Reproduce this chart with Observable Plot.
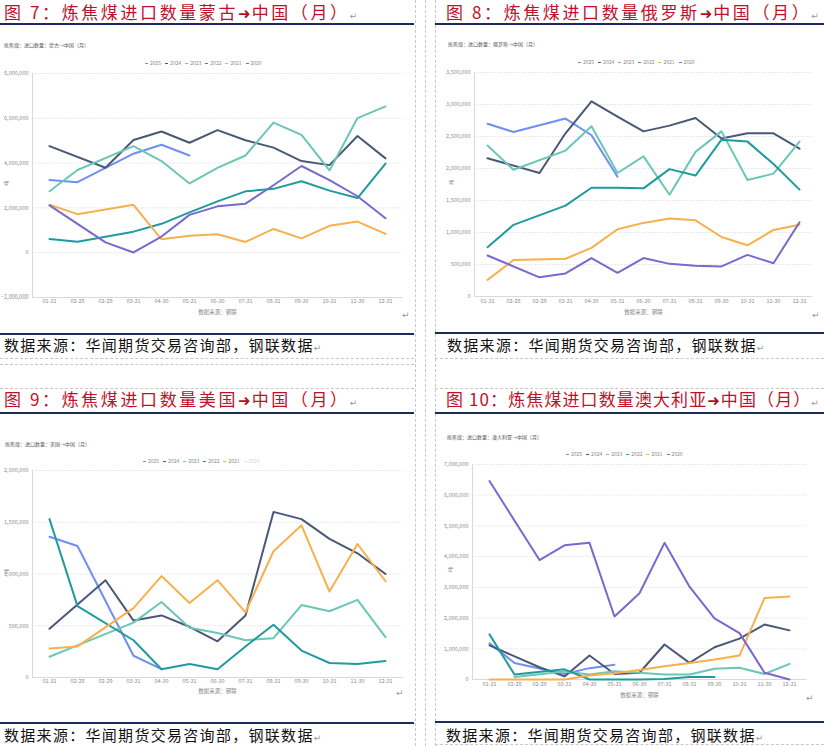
<!DOCTYPE html>
<html><head><meta charset="utf-8">
<script src="https://cdn.jsdelivr.net/npm/d3@7"></script>
<script src="https://cdn.jsdelivr.net/npm/@observablehq/plot@0.6"></script>
<style>
body{margin:0;background:#fff;}
#page{position:relative;width:824px;height:746px;overflow:hidden;font-family:"Noto Sans CJK SC","Noto Sans",sans-serif;background:#fff;}
.abs{position:absolute;}
.title{font-size:17px;line-height:20px;color:#c0102a;letter-spacing:2.6px;white-space:nowrap;}
.title .arr{font-family:"DejaVu Sans";font-size:15px;letter-spacing:1px;color:#b01020;}
.ret{color:#999;font-size:9px;letter-spacing:0;font-family:"DejaVu Sans";}
.src{font-size:15px;line-height:18px;color:#111;letter-spacing:1.3px;white-space:nowrap;}
.navy{height:2px;background:#1c2b5e;}
.sub{font-size:5px;line-height:6px;color:#555;white-space:nowrap;}
.leg{font-size:5px;line-height:6px;color:#888;white-space:nowrap;}
.leg span.it{margin-right:4px;}
.leg span.d{display:inline-block;width:3px;height:1px;vertical-align:middle;margin-right:2px;}
.hd{border-top:1px dashed #c8c8c8;height:0;}
.vd{border-left:1px dashed #c8c8c8;width:0;}
</style>
</head><body>
<div id="page"></div>
<script>
const cats = ["01-31","02-28","02-29","03-31","04-30","05-31","06-30","07-31","08-31","09-30","10-31","11-30","12-31"];
const years = ["2025","2024","2023","2022","2021","2020"];
const colors = ["#6f8ff2","#4a5878","#6cc6b5","#1f9ba0","#f8b04c","#7a68cf"];
const yTicks7 = [-2000000,0,2000000,4000000,6000000,8000000];
const yTicks8 = [0,500000,1000000,1500000,2000000,2500000,3000000,3500000];
const yTicks9 = [0,500000,1000000,1500000,2000000];
const yTicks10 = [0,1000000,2000000,3000000,4000000,5000000,6000000,7000000];

// 蒙古
const mn2025 = [3250000,3150000,null,4420000,4820000,4340000,null,null,null,null,null,null,null];
const mn2024 = [4760000,null,3790000,5030000,5410000,4910000,5470000,5020000,4690000,4090000,3910000,5210000,4210000];
const mn2023 = [2740000,3690000,null,4760000,4090000,3090000,3790000,4340000,5810000,5260000,3670000,6010000,6530000];
const mn2022 = [610000,490000,null,940000,1290000,1800000,2290000,2740000,2850000,3190000,2770000,2440000,3980000];
const mn2021 = [2140000,1720000,null,2140000,600000,760000,820000,480000,1060000,640000,1200000,1390000,840000];
const mn2020 = [2110000,null,460000,10000,720000,1690000,2070000,2190000,3010000,3870000,3240000,2520000,1540000];
// 俄罗斯
const ru2025 = [2700000,2570000,null,2780000,2520000,1870000,null,null,null,null,null,null,null];
const ru2024 = [2160000,null,1930000,2550000,3050000,2810000,2580000,2670000,2790000,2470000,2550000,2550000,2310000];
const ru2023 = [2360000,1980000,null,2280000,2660000,1930000,2190000,1590000,2260000,2580000,1820000,1920000,2420000];
const ru2022 = [770000,1120000,null,1420000,1700000,1700000,1690000,1990000,1890000,2450000,2420000,2070000,1670000];
const ru2021 = [260000,570000,null,590000,760000,1050000,1150000,1220000,1190000,930000,800000,1040000,1120000];
const ru2020 = [640000,null,300000,360000,600000,370000,600000,510000,480000,470000,650000,520000,1160000];
// 美国
const us2025 = [1360000,1270000,null,210000,80000,null,null,null,null,null,null,null,null];
const us2024 = [470000,null,940000,550000,600000,490000,350000,600000,1600000,1530000,1340000,1200000,1000000];
const us2023 = [200000,310000,null,530000,730000,480000,430000,360000,380000,700000,640000,750000,390000];
const us2022 = [1530000,690000,null,360000,80000,130000,80000,300000,510000,260000,140000,130000,160000];
const us2021 = [280000,300000,null,670000,980000,720000,940000,630000,1220000,1470000,830000,1290000,930000];
const us2020 = [null,null,null,null,null,null,null,null,null,null,null,null,null];
// 澳大利亚
const au2025 = [1180000,540000,null,180000,370000,480000,null,null,null,null,null,null,null];
const au2024 = [1110000,null,400000,100000,780000,180000,220000,1140000,540000,1050000,1330000,1790000,1600000];
const au2023 = [null,80000,null,260000,160000,270000,220000,160000,160000,350000,380000,180000,510000];
const au2022 = [1470000,160000,null,330000,0,0,0,20000,80000,80000,null,null,null];
const au2021 = [0,0,null,0,130000,200000,310000,430000,540000,650000,780000,2650000,2700000];
const au2020 = [6460000,null,3890000,4370000,4450000,2050000,2810000,4450000,3020000,1990000,1510000,220000,0];

function tidy(arrs){
  const out=[];
  arrs.forEach((a,k)=>a.forEach((v,i)=>{ if(v!=null) out.push({cat:cats[i],year:years[k],value:v}); }));
  return out;
}

const page = document.getElementById("page");
function el(cls, css, html){
  const d=document.createElement("div"); d.className="abs "+cls; Object.assign(d.style,css); if(html!=null) d.innerHTML=html; page.appendChild(d); return d;
}

function panel(cfg){
  const {left,top,width,height,mL,mR,mT,mB,domain,ticks,series,yDx,xDy,xPad} = cfg;
  const W = width-mL-mR, H = height-mT-mB;
  const chart = Plot.plot({
    width, height, marginLeft:mL, marginRight:mR, marginTop:mT, marginBottom:mB,
    style:{fontFamily:'"Noto Sans CJK SC",sans-serif', fontSize:"5.5px", color:"#8c8c8c", background:"transparent", overflow:"visible"},
    x:{type:"point", domain:cats, padding:0.5, axis:null},
    y:{domain, axis:null},
    color:{domain:years, range:colors},
    marks:[
      Plot.gridY(ticks,{stroke:"#e2e2e2", strokeOpacity:1, strokeDasharray:"1.5,1.5"}),
      Plot.frame({stroke:"#d9d9d9", strokeDasharray:`0 ${W+H} ${W+H}`}),
      Plot.axisY(ticks,{tickSize:0, tickPadding:4, tickFormat:d3.format(","), label:null}),
      Plot.axisX({tickSize:0, tickPadding:xPad, label:null}),
      Plot.line(tidy(series),{x:"cat", y:"value", stroke:"year", z:"year", strokeWidth:2}),
      Plot.text(["吨"],{text:d=>d, frameAnchor:"left", dx:yDx, rotate:-90, fill:"#888", fontSize:5}),
      Plot.text(["数据来源：钢联"],{text:d=>d, frameAnchor:"bottom", dy:xDy, fill:"#888", fontSize:5.5})
    ]
  });
  chart.style.position="absolute"; chart.style.left=left+"px"; chart.style.top=top+"px";
  page.appendChild(chart);
}

function legend(left, top, disabled){
  const html = years.map((y,i)=>{
    const off = disabled && disabled.includes(y);
    return `<span class="it" style="${off?'color:#d8d8d8':''}"><span class="d" style="background:${off?'#e0e0e0':colors[i]}"></span>${y}</span>`;
  }).join("");
  el("leg",{left:left+"px",top:top+"px"},html);
}

// dashed borders
el("hd",{left:"0px",top:"358px",width:"414px"});
el("hd",{left:"0px",top:"364px",width:"414px"});
el("hd",{left:"0px",top:"388px",width:"414px"});
el("vd",{left:"415px",top:"0px",height:"746px"});
el("vd",{left:"425px",top:"0px",height:"746px"});
el("vd",{left:"435px",top:"0px",height:"746px"});
el("hd",{left:"435px",top:"358px",width:"389px"});
el("hd",{left:"435px",top:"388px",width:"389px"});
el("hd",{left:"435px",top:"744px",width:"389px"});

// Titles & rules
el("title",{left:"4px",top:"2px"},'图 7：炼焦煤进口数量蒙古<span class="arr">➜</span>中国（月）<span class="ret">↵</span>');
el("title",{left:"446px",top:"2px"},'图 8：炼焦煤进口数量俄罗斯<span class="arr">➜</span>中国（月）<span class="ret">↵</span>');
el("title",{left:"4px",top:"389px"},'图 9：炼焦煤进口数量美国<span class="arr">➜</span>中国（月）<span class="ret">↵</span>');
el("title",{left:"446px",top:"389px",letterSpacing:"1.1px"},'图 10：炼焦煤进口数量澳大利亚<span class="arr">➜</span>中国（月）<span class="ret">↵</span>');
el("navy",{left:"0px",top:"23px",width:"414px"});
el("navy",{left:"435px",top:"23px",width:"389px"});
el("navy",{left:"0px",top:"412px",width:"414px"});
el("navy",{left:"435px",top:"412px",width:"389px"});
el("navy",{left:"0px",top:"333px",width:"414px"});
el("navy",{left:"435px",top:"332px",width:"389px"});
el("navy",{left:"0px",top:"722px",width:"414px"});
el("navy",{left:"435px",top:"721px",width:"389px"});
const srcTxt = '数据来源：华闻期货交易咨询部，钢联数据<span class="ret">↵</span>';
el("src",{left:"4px",top:"336px"},srcTxt);
el("src",{left:"447px",top:"336px"},srcTxt);
el("src",{left:"4px",top:"726px"},srcTxt);
el("src",{left:"446px",top:"726px"},srcTxt);

// subtitles & legends
el("sub",{left:"4px",top:"42px"},"炼焦煤：进口数量：蒙古→中国（月）");
el("sub",{left:"448px",top:"41px"},"炼焦煤：进口数量：俄罗斯→中国（月）");
el("sub",{left:"5px",top:"441px"},"炼焦煤：进口数量：美国→中国（月）");
el("sub",{left:"447px",top:"434px"},"炼焦煤：进口数量：澳大利亚→中国（月）");
legend(145,60);
legend(578,59);
legend(143,458,["2020"]);
legend(566,451);

// return marks
el("ret",{left:"402px",top:"310px"},"↵");
el("ret",{left:"812px",top:"310px"},"↵");
el("ret",{left:"396px",top:"688px"},"↵");
el("ret",{left:"806px",top:"693px"},"↵");

panel({left:0,top:66,width:412,height:256,mL:32,mR:10,mT:7,mB:25,domain:[-2000000,8000000],ticks:yTicks7,
  series:[mn2025,mn2024,mn2023,mn2022,mn2021,mn2020],yDx:-26,xDy:16,xPad:2});
panel({left:436,top:66,width:388,height:256,mL:38,mR:12,mT:6,mB:26,domain:[0,3500000],ticks:yTicks8,
  series:[ru2025,ru2024,ru2023,ru2022,ru2021,ru2020],yDx:-23,xDy:17,xPad:3});
panel({left:0,top:462,width:412,height:240,mL:32,mR:10,mT:8,mB:25,domain:[0,2000000],ticks:yTicks9,
  series:[us2025,us2024,us2023,us2022,us2021,us2020],yDx:-26,xDy:15,xPad:2});
panel({left:436,top:456,width:388,height:250,mL:36,mR:18,mT:8,mB:27,domain:[0,7000000],ticks:yTicks10,
  series:[au2025,au2024,au2023,au2022,au2021,au2020],yDx:-22,xDy:17,xPad:3});
</script>
</body></html>
